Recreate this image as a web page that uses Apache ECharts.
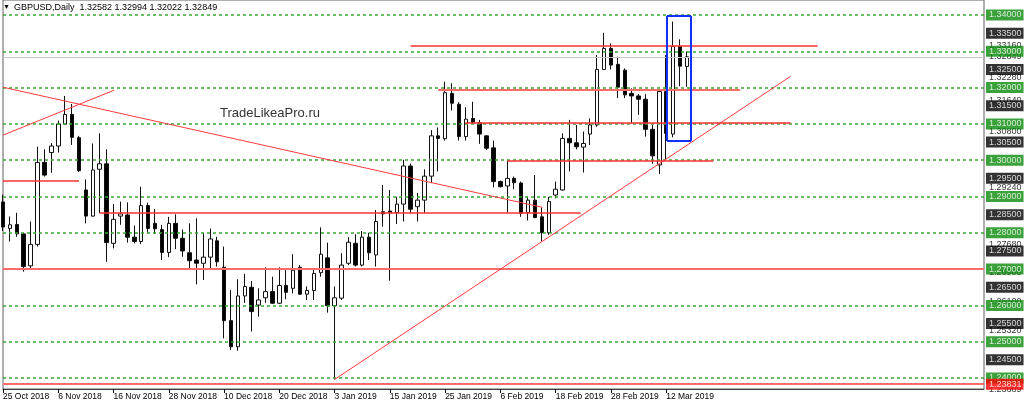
<!DOCTYPE html>
<html>
<head>
<meta charset="utf-8">
<script src="https://cdn.jsdelivr.net/npm/echarts@6/dist/echarts.min.js"></script>
<style>
  html, body { margin: 0; padding: 0; background: #fff; }
  #chart { width: 1024px; height: 407px; }
</style>
</head>
<body>
<div id="chart"></div>
<script>
// trading days shown on the chart (no bars on 25 Dec and 1 Jan)
var dates = [
  '25 Oct 2018','26 Oct 2018','29 Oct 2018','30 Oct 2018','31 Oct 2018',
  '1 Nov 2018','2 Nov 2018','5 Nov 2018','6 Nov 2018','7 Nov 2018','8 Nov 2018','9 Nov 2018',
  '12 Nov 2018','13 Nov 2018','14 Nov 2018','15 Nov 2018','16 Nov 2018','19 Nov 2018','20 Nov 2018',
  '21 Nov 2018','22 Nov 2018','23 Nov 2018','26 Nov 2018','27 Nov 2018','28 Nov 2018','29 Nov 2018',
  '30 Nov 2018','3 Dec 2018','4 Dec 2018','5 Dec 2018','6 Dec 2018','7 Dec 2018','10 Dec 2018',
  '11 Dec 2018','12 Dec 2018','13 Dec 2018','14 Dec 2018','17 Dec 2018','18 Dec 2018','19 Dec 2018',
  '20 Dec 2018','21 Dec 2018','24 Dec 2018','26 Dec 2018','27 Dec 2018','28 Dec 2018','31 Dec 2018',
  '2 Jan 2019','3 Jan 2019','4 Jan 2019','7 Jan 2019','8 Jan 2019','9 Jan 2019','10 Jan 2019',
  '11 Jan 2019','14 Jan 2019','15 Jan 2019','16 Jan 2019','17 Jan 2019','18 Jan 2019','21 Jan 2019',
  '22 Jan 2019','23 Jan 2019','24 Jan 2019','25 Jan 2019','28 Jan 2019','29 Jan 2019','30 Jan 2019',
  '31 Jan 2019','1 Feb 2019','4 Feb 2019','5 Feb 2019','6 Feb 2019','7 Feb 2019','8 Feb 2019',
  '11 Feb 2019','12 Feb 2019','13 Feb 2019','14 Feb 2019','15 Feb 2019','18 Feb 2019','19 Feb 2019',
  '20 Feb 2019','21 Feb 2019','22 Feb 2019','25 Feb 2019','26 Feb 2019','27 Feb 2019','28 Feb 2019',
  '1 Mar 2019','4 Mar 2019','5 Mar 2019','6 Mar 2019','7 Mar 2019','8 Mar 2019','11 Mar 2019',
  '12 Mar 2019','13 Mar 2019','14 Mar 2019','15 Mar 2019'
];

var opens = [
  1.2885,1.2812,1.2823,1.2797,1.2709,1.2768,1.2994,1.3021,1.3039,1.3099,
  1.3126,1.3062,1.2918,1.2846,1.2975,1.2990,1.2771,1.2846,1.2849,1.2788,
  1.2776,1.2875,1.2826,1.2809,1.2746,1.2826,1.2785,1.2745,1.2725,1.2716,
  1.2733,1.2778,1.2705,1.2558,1.2486,1.2626,1.2650,1.2601,1.2621,1.2638,
  1.2606,1.2655,1.2647,1.2705,1.2631,1.2641,1.2690,1.2731,1.2599,1.2620,
  1.2716,1.2771,1.2711,1.2788,1.2739,1.2858,1.2860,1.2856,1.2879,1.2984,
  1.2872,1.2890,1.2956,1.3067,1.3059,1.3184,1.3154,1.3065,1.3115,1.3103,
  1.3067,1.3034,1.2941,1.2929,1.2950,1.2937,1.2856,1.2890,1.2844,1.2800,
  1.2904,1.2918,1.3060,1.3048,1.3036,1.3072,1.3097,1.3250,1.3308,1.3264,
  1.3248,1.3184,1.3177,1.3168,1.3085,1.2987,1.3189,1.3072,1.3313,1.32582
];
var highs = [
  1.2905,1.2845,1.2855,1.2800,1.2831,1.3037,1.3030,1.3047,1.3109,1.3177,
  1.3155,1.3067,1.2947,1.3046,1.3074,1.3030,1.2879,1.2886,1.2884,1.2820,
  1.2927,1.2883,1.2865,1.2822,1.2844,1.2851,1.2809,1.2826,1.2840,1.2800,
  1.2812,1.2789,1.2762,1.2642,1.2672,1.2687,1.2667,1.2647,1.2705,1.2679,
  1.2705,1.2698,1.2741,1.2711,1.2652,1.2702,1.2815,1.2773,1.2652,1.2744,
  1.2788,1.2796,1.2805,1.2800,1.2863,1.2932,1.2918,1.2899,1.3001,1.2991,
  1.2910,1.2975,1.3083,1.3090,1.3216,1.3212,1.3160,1.3146,1.3161,1.3111,
  1.3069,1.3054,1.2944,1.2999,1.2955,1.2941,1.2899,1.2959,1.2869,1.2899,
  1.2941,1.3074,1.3111,1.3097,1.3079,1.3115,1.3290,1.3351,1.3322,1.3285,
  1.3253,1.3198,1.3182,1.3182,1.3097,1.3193,1.3290,1.3382,1.3333,1.32994
];
var lows = [
  1.2805,1.2776,1.2789,1.2693,1.2702,1.2762,1.2955,1.2965,1.3021,1.3097,
  1.3042,1.2968,1.2826,1.2844,1.2854,1.2720,1.2757,1.2822,1.2773,1.2771,
  1.2769,1.2799,1.2797,1.2725,1.2733,1.2755,1.2734,1.2700,1.2658,1.2670,
  1.2700,1.2707,1.2509,1.2477,1.2475,1.2607,1.2528,1.2569,1.2607,1.2604,
  1.2604,1.2617,1.2633,1.2629,1.2615,1.2615,1.2679,1.2580,1.2396,1.2615,
  1.2711,1.2707,1.2707,1.2725,1.2707,1.2817,1.2668,1.2824,1.2831,1.2854,
  1.2831,1.2854,1.2937,1.2969,1.3054,1.3137,1.3054,1.3054,1.3100,1.3045,
  1.3028,1.2925,1.2925,1.2856,1.2920,1.2844,1.2834,1.2840,1.2776,1.2794,
  1.2895,1.2916,1.2969,1.3030,1.2966,1.3042,1.3092,1.3248,1.3250,1.3171,
  1.3171,1.3102,1.3125,1.3065,1.2990,1.2962,1.3003,1.3063,1.3204,1.32022
];
var closes = [
  1.2816,1.2822,1.2797,1.2707,1.2768,1.2994,1.2959,1.3039,1.3100,1.3126,
  1.3063,1.2971,1.2846,1.2973,1.2990,1.2773,1.2837,1.2852,1.2788,1.2776,
  1.2875,1.2812,1.2811,1.2746,1.2826,1.2785,1.2750,1.2723,1.2716,1.2733,
  1.2783,1.2720,1.2558,1.2486,1.2626,1.2652,1.2583,1.2615,1.2638,1.2606,
  1.2655,1.2636,1.2697,1.2631,1.2641,1.2688,1.2741,1.2599,1.2621,1.2711,
  1.2774,1.2711,1.2788,1.2745,1.2831,1.2852,1.2856,1.2879,1.2984,1.2865,
  1.2890,1.2956,1.3067,1.3060,1.3186,1.3157,1.3065,1.3113,1.3103,1.3072,
  1.3033,1.2941,1.2927,1.2950,1.2938,1.2854,1.2890,1.2842,1.2800,1.2886,
  1.2920,1.3060,1.3048,1.3037,1.3046,1.3097,1.3250,1.3308,1.3262,1.3201,
  1.3180,1.3177,1.3168,1.3085,1.3012,1.3189,1.3074,1.3313,1.3259,1.32849
];

// empty slots to the right of the last bar (chart shift)
var futureBars = 43;

// price scale labels
var roundLevels = [1.34, 1.33, 1.32, 1.31, 1.30, 1.29, 1.28, 1.27, 1.26, 1.25, 1.24];
var halfLevels = [1.335, 1.325, 1.315, 1.305, 1.295, 1.285, 1.275, 1.265, 1.255, 1.245];
var objectTags = [1.3316, 1.32849, 1.3228, 1.3164, 1.308, 1.2924, 1.2768, 1.269, 1.261, 1.2532, 1.23689];
var bidPrice = 1.32849;
var supportPrice = 1.23831;

// drawn objects: [bar from, price from, bar to, price to]
var horizontalSegments = [
  [59.0, 1.3316, 117.9, 1.3316],
  [66.9, 1.3102, 114.0, 1.3102],
  [73.0, 1.2998, 102.8, 1.2998],
  [14.0, 1.2854, 83.6, 1.2854],
  [0, 1.2943, 11.0, 1.2943]
];
var levelLines = [
  [63.0, 1.3194, 106.7, 1.3194],
  [0, 1.2701, 142, 1.2701],
  [0, 1.23831, 142, 1.23831]
];
var trendLines = [
  [0, 1.3201, 78.1, 1.2870],
  [0, 1.3069, 16.1, 1.3193],
  [48.0, 1.2396, 114.0, 1.3231]
];
var boxBars = [96.1, 99.6];
var boxPrices = [1.3053, 1.3397];

var categories = dates.concat(new Array(futureBars).fill(''));
var lastSlot = categories.length - 1;

var candles = dates.map(function (d, i) {
  return [opens[i], closes[i], lows[i], highs[i]];
});

var axisFont = 'Liberation Sans, Arial, sans-serif';

function segment(seg, color, width) {
  return [
    { coord: [seg[0], seg[1]], lineStyle: { color: color, width: width, type: 'solid' } },
    { coord: [seg[2], seg[3]] }
  ];
}

var objectLines = [];
objectLines.push(segment([0, bidPrice, lastSlot, bidPrice], '#c4c4c4', 1));
horizontalSegments.forEach(function (s) { objectLines.push(segment(s, '#ff3030', 1.5)); });
levelLines.forEach(function (s) { objectLines.push(segment(s, '#ff6a6a', 2)); });
trendLines.forEach(function (s) { objectLines.push(segment(s, '#ff3a3a', 1)); });
[
  [boxBars[0], boxPrices[1], boxBars[1], boxPrices[1]],
  [boxBars[1], boxPrices[1], boxBars[1], boxPrices[0]],
  [boxBars[1], boxPrices[0], boxBars[0], boxPrices[0]],
  [boxBars[0], boxPrices[0], boxBars[0], boxPrices[1]]
].forEach(function (s) { objectLines.push(segment(s, '#1030ff', 2)); });

// price tags drawn at the right edge of the plot, outside the grid
function tagSeries(levels, bg, fg, z) {
  return {
    type: 'scatter',
    xAxisIndex: 1,
    data: levels.map(function (v) { return [lastSlot, v]; }),
    symbolSize: 0,
    clip: false,
    silent: true,
    animation: false,
    z: z,
    itemStyle: { color: 'rgba(0,0,0,0)' },
    label: {
      show: true, position: 'right', distance: 2,
      formatter: function (p) { return p.value[1].toFixed(5); },
      color: fg, backgroundColor: bg,
      fontFamily: axisFont, fontSize: 9, lineHeight: 9,
      padding: [1, 2, 1, 3]
    }
  };
}

var series = [
  {
    type: 'line',
    xAxisIndex: 1,
    data: [],
    silent: true,
    z: 1,
    markLine: {
      silent: true,
      symbol: ['none', 'none'],
      animation: false,
      label: { show: false },
      lineStyle: { color: '#34a834', width: 1.5, type: [3, 3] },
      data: roundLevels.map(function (v) { return { yAxis: v }; })
    }
  },
  {
    type: 'candlestick',
    data: candles,
    barWidth: 4,
    z: 3,
    animation: false,
    itemStyle: {
      color: '#ffffff',
      color0: '#000000',
      borderColor: '#111111',
      borderColor0: '#111111',
      borderWidth: 1
    }
  },
  {
    type: 'line',
    xAxisIndex: 1,
    data: [],
    silent: true,
    z: 5,
    markLine: {
      silent: true,
      symbol: ['none', 'none'],
      animation: false,
      label: { show: false },
      data: objectLines
    }
  },
  tagSeries(objectTags, 'rgba(0,0,0,0)', '#000', 10),
  tagSeries(halfLevels, '#000000', '#ffffff', 11),
  tagSeries(roundLevels, '#0a8a0a', '#ffffff', 12),
  tagSeries([supportPrice], '#ff0000', '#ffffff', 13)
];

function showDate(idx, val) {
  return idx % 8 === 0 && val !== '';
}

var chart = echarts.init(document.getElementById('chart'), null, { renderer: 'canvas' });
var option = {
  animation: false,
  backgroundColor: '#ffffff',
  grid: {
    left: 2, right: 40, top: 0, bottom: 18,
    show: true, borderColor: '#606060', borderWidth: 1, backgroundColor: '#ffffff'
  },
  xAxis: [
    {
      type: 'category',
      data: categories,
      boundaryGap: false,
      axisLine: { lineStyle: { color: '#404040' } },
      axisTick: { interval: showDate, length: 4, lineStyle: { color: '#000' } },
      axisLabel: {
        interval: showDate, align: 'left', margin: 3,
        color: '#000', fontFamily: axisFont, fontSize: 8.5
      },
      splitLine: { show: false }
    },
    {
      type: 'value',
      min: 0, max: lastSlot,
      show: false
    }
  ],
  yAxis: {
    type: 'value',
    min: 1.23697,
    max: 1.34413,
    show: false,
    splitLine: { show: false }
  },
  graphic: [
    { type: 'text', left: 3, top: 4, style: { text: '▼', font: '7px ' + axisFont, fill: '#000' } },
    { type: 'text', left: 14, top: 3, style: { text: 'GBPUSD,Daily  1.32582 1.32994 1.32022 1.32849', font: '9px ' + axisFont, fill: '#000' } },
    { type: 'text', left: 220, top: 107, style: { text: 'TradeLikeaPro.ru', font: '13px ' + axisFont, fill: '#333' } }
  ],
  series: series
};
chart.setOption(option);
</script>
</body>
</html>
